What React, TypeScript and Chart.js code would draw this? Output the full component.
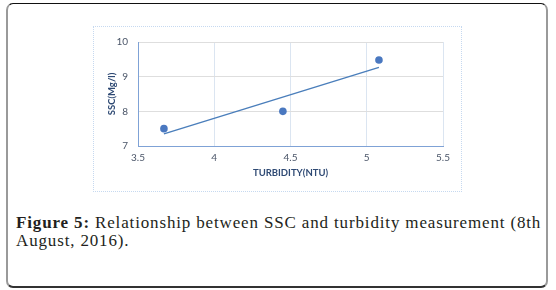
import React, { useEffect, useRef } from "react";
import { Chart, registerables } from "chart.js";

Chart.register(...registerables);

const turbidity = [3.67, 4.45, 5.08];
const ssc = [7.5, 8.0, 9.48];
const trendX = [3.67, 5.08];
const trendY = [7.35, 9.27];
const xMin = 3.5, xMax = 5.5, xStep = 0.5;
const yMin = 7, yMax = 10, yStep = 1;
const xTitle = "TURBIDITY(NTU)";
const yTitle = "SSC(Mg/l)";
const captionBold = "Figure 5:";
const captionLine1 = " Relationship between SSC and turbidity measurement (8th";
const captionLine2 = "August, 2016).";

const BOX_W = 369;
const BOX_H = 166;

export default function App() {
  const ref = useRef<HTMLCanvasElement | null>(null);
  useEffect(() => {
    if (!ref.current) return;
    const tickFont = { family: "Lato, 'Open Sans', sans-serif", size: 10 };
    const titleFont = { family: "Lato, 'Open Sans', sans-serif", size: 9.5, weight: "bold" as const };
    const chart = new Chart(ref.current, {
      type: "scatter",
      data: {
        datasets: [
          {
            label: "SSC",
            data: turbidity.map((x, i) => ({ x, y: ssc[i] })),
            backgroundColor: "#4a78c0",
            borderColor: "#4a78c0",
            pointRadius: 3.8,
            pointBorderWidth: 0,
            showLine: false,
          },
          {
            label: "Trend",
            data: trendX.map((x, i) => ({ x, y: trendY[i] })),
            borderColor: "#4a7ebb",
            borderWidth: 1.4,
            pointRadius: 0,
            showLine: true,
          },
        ],
      },
      options: {
        responsive: false,
        animation: false,
        devicePixelRatio: 1,
        layout: { padding: { left: 0, top: 10, right: 19, bottom: 0 } },
        plugins: { legend: { display: false }, tooltip: { enabled: false } },
        scales: {
          x: {
            type: "linear",
            min: xMin,
            max: xMax,
            ticks: {
              stepSize: xStep,
              font: tickFont,
              color: "#4a5568",
              padding: 6,
              callback: (v: any) => String(Math.round(Number(v) * 10) / 10),
            },
            grid: { color: "#dbe5f1", drawTicks: false },
            border: { color: "#7fa2d6", width: 1 },
            title: { display: true, text: xTitle, font: titleFont, color: "#2f4a74", padding: { top: 0, bottom: 13 } },
            afterFit: (s: any) => { s.height = 46; },
          },
          y: {
            type: "linear",
            min: yMin,
            max: yMax,
            ticks: { stepSize: yStep, font: tickFont, color: "#4a5568", padding: 10 },
            grid: { color: "#dedede", drawTicks: false },
            border: { color: "#7fa2d6", width: 1 },
            title: { display: true, text: yTitle, font: titleFont, color: "#2f4a74", padding: { top: 13, bottom: 0 } },
            afterFit: (s: any) => { s.width = 45; },
          },
        },
      },
    });
    return () => chart.destroy();
  }, []);

  return (
    <div style={{ position: "absolute", left: 0, top: 0, width: 556, height: 290, background: "#fff", overflow: "hidden" }}>
      <div
        style={{
          position: "absolute",
          left: 6,
          top: 3,
          width: 542,
          height: 285,
          boxSizing: "border-box",
          borderTop: "1.5px solid #111",
          borderLeft: "2px solid #9a9a9a",
          borderRight: "2px solid #9a9a9a",
          borderBottom: "2px solid #333",
          borderRadius: 7,
        }}
      />
      <div
        style={{
          position: "absolute",
          left: 93,
          top: 26,
          width: BOX_W,
          height: BOX_H,
          boxSizing: "border-box",
          border: "1px dotted #c6d9f0",
        }}
      />
      <canvas ref={ref} width={BOX_W} height={BOX_H} style={{ position: "absolute", left: 93, top: 26, width: BOX_W, height: BOX_H }} />
      <div
        style={{
          position: "absolute",
          left: 16,
          top: 214,
          whiteSpace: "nowrap",
          fontFamily: "'Liberation Serif', 'DejaVu Serif', serif",
          fontSize: 17,
          letterSpacing: "0.85px",
          lineHeight: "18px",
          color: "#231f20",
        }}
      >
        <b>{captionBold}</b>
        {captionLine1}
        <br />
        {captionLine2}
      </div>
    </div>
  );
}
